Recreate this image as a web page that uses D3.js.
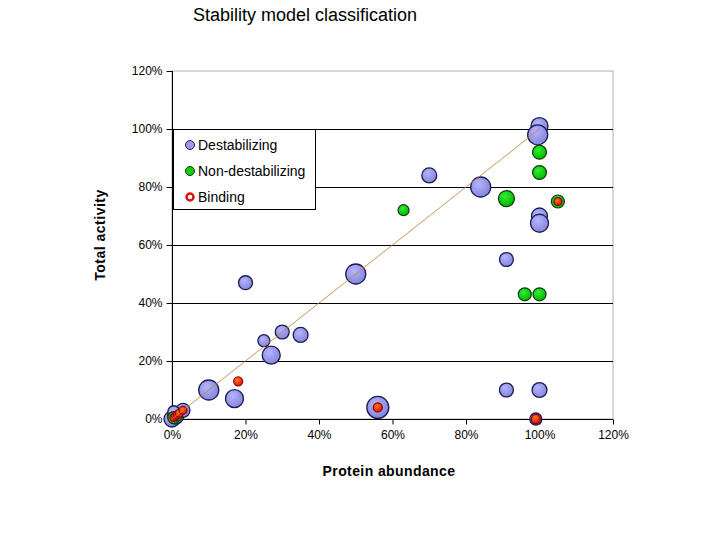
<!DOCTYPE html>
<html><head><meta charset="utf-8">
<script src="https://cdn.jsdelivr.net/npm/d3@7"></script>
<style>body{margin:0;background:#fff}svg{display:block}text{font-family:Arial,"Liberation Sans",sans-serif}</style>
</head><body>
<svg id="c" width="720" height="540"></svg>
<script>
const title = "Stability model classification";
const xLabel = "Protein abundance";
const yLabel = "Total activity";
const tickValues = [0, 20, 40, 60, 80, 100, 120];
const seriesNames = ["Destabilizing", "Non-destabilizing", "Binding"];

// Destabilizing: abundance %, activity %, bubble size
const destabX = [100, 99.5, 70, 84, 100, 100, 91, 50, 20, 30, 35, 25, 27, 17, 10, 56, 91, 100, 99, 0, 1, 3, 0.5];
const destabY = [101, 98, 84, 80, 70, 67.5, 55, 50, 47, 30, 29, 27, 22, 7, 10, 4, 10, 10, 0, 0, 1, 3, 2.5];
const destabS = [60, 83, 46, 83, 53, 67, 40, 83, 40, 40, 46, 30, 67, 67, 83, 100, 40, 46, 30, 53, 53, 40, 30];

// Non-destabilizing
const nondX = [100, 100, 91, 63, 105, 96, 100, 0.5, 1.5];
const nondY = [92, 85, 76, 72, 75, 43, 43, 0.5, 1];
const nondS = [40, 40, 53, 25, 35, 35, 35, 30, 21];

// Binding
const bindX = [18, 56, 105, 99, 0.5, 1, 1.5, 2, 3];
const bindY = [13, 4, 75, 0, 0.5, 1, 1.5, 2, 3];
const bindS = [17, 17, 13, 17, 13, 13, 13, 13, 13];

// diagonal reference line
const lineX = [0, 100];
const lineY = [0, 100];

const svg = d3.select("#c");
const L = 172, R = 613, T = 71, B = 419;
const x = d3.scaleLinear().domain([0, 120]).range([L, R]);
const y = d3.scaleLinear().domain([0, 120]).range([B, T]);
const r = d3.scaleSqrt().domain([0, 100]).range([0, 11]);

const defs = svg.append("defs");
function grad(id, c0, c1) {
  const g = defs.append("radialGradient").attr("id", id).attr("cx", "40%").attr("cy", "35%").attr("r", "65%");
  g.append("stop").attr("offset", "0%").attr("stop-color", c0);
  g.append("stop").attr("offset", "100%").attr("stop-color", c1);
}
grad("gB", "#b4b4ff", "#8585dc");
grad("gG", "#33ee33", "#00b800");
grad("gR", "#ff7a10", "#e01010");

// plot border (gray)
svg.append("rect").attr("x", L).attr("y", T).attr("width", R - L).attr("height", B - T)
  .attr("fill", "none").attr("stroke", "#b0b0b0").attr("stroke-width", 1);

// gridlines
svg.append("g").selectAll("line").data(tickValues.filter(v => v > 0 && v < 120)).join("line")
  .attr("x1", L).attr("x2", R).attr("y1", d => Math.round(y(d)) + 0.5).attr("y2", d => Math.round(y(d)) + 0.5)
  .attr("stroke", "#000").attr("stroke-width", 1);

const fmt = d => d + "%";
const yAxis = svg.append("g").attr("transform", `translate(${L + 0.5},0)`)
  .call(d3.axisLeft(y).tickValues(tickValues).tickFormat(fmt).tickSize(6).tickPadding(4));
const xAxis = svg.append("g").attr("transform", `translate(0,${B + 0.5})`)
  .call(d3.axisBottom(x).tickValues(tickValues).tickFormat(fmt).tickSize(5).tickPadding(6));
[yAxis, xAxis].forEach(a => {
  a.select(".domain").attr("stroke", "#000");
  a.selectAll(".tick line").attr("stroke", "#000");
  a.selectAll("text").attr("font-size", 12).attr("fill", "#000").attr("font-family", "Arial, 'Liberation Sans', sans-serif");
});
yAxis.select(".domain").attr("d", `M0,${T}V${B}`);
xAxis.select(".domain").attr("d", `M${L},0H${R}`);

function bubbles(xs, ys, ss, fill, stroke, sw) {
  svg.append("g").selectAll("circle").data(xs.map((v, i) => [v, ys[i], ss[i]])).join("circle")
    .attr("cx", d => x(d[0])).attr("cy", d => y(d[1])).attr("r", d => r(d[2]))
    .attr("fill", fill).attr("stroke", stroke).attr("stroke-width", sw);
}
bubbles(destabX, destabY, destabS, "url(#gB)", "#1c1c50", 1.3);
bubbles(nondX, nondY, nondS, "url(#gG)", "#0c3a0c", 1.2);
bubbles(bindX, bindY, bindS, "url(#gR)", "#900000", 1.2);

// diagonal line
svg.append("path").datum(lineX.map((v, i) => [v, lineY[i]]))
  .attr("d", d3.line().x(d => x(d[0])).y(d => y(d[1])))
  .attr("stroke", "#c88040").attr("stroke-width", 1).attr("fill", "none").attr("opacity", 0.85);

// legend
const lg = svg.append("g");
lg.append("rect").attr("x", 173.5).attr("y", 129.5).attr("width", 142).attr("height", 80)
  .attr("fill", "#fff").attr("stroke", "#000");
const legStyles = [
  { fill: "#9a9af0", stroke: "#1c1c50", sw: 1, rr: 4.5 },
  { fill: "#11cc11", stroke: "#0c3a0c", sw: 1, rr: 4.5 },
  { fill: "#fff", stroke: "#dd1111", sw: 2.5, rr: 3.5 }
];
seriesNames.forEach((n, i) => {
  const cy = 145 + i * 26;
  const s = legStyles[i];
  lg.append("circle").attr("cx", 190).attr("cy", cy).attr("r", s.rr)
    .attr("fill", s.fill).attr("stroke", s.stroke).attr("stroke-width", s.sw);
  lg.append("text").attr("x", 198).attr("y", cy + 5).attr("font-size", 14).text(n);
});

// titles
svg.append("text").attr("x", 305).attr("y", 21).attr("text-anchor", "middle").attr("font-size", 18).text(title);
svg.append("text").attr("x", 389).attr("y", 476).attr("text-anchor", "middle").attr("font-size", 14)
  .attr("font-weight", "bold").attr("letter-spacing", 0.4).text(xLabel);
svg.append("text").attr("transform", "translate(105,235) rotate(-90)").attr("text-anchor", "middle")
  .attr("font-size", 14).attr("font-weight", "bold").attr("letter-spacing", 0.5).text(yLabel);
</script>
</body></html>
